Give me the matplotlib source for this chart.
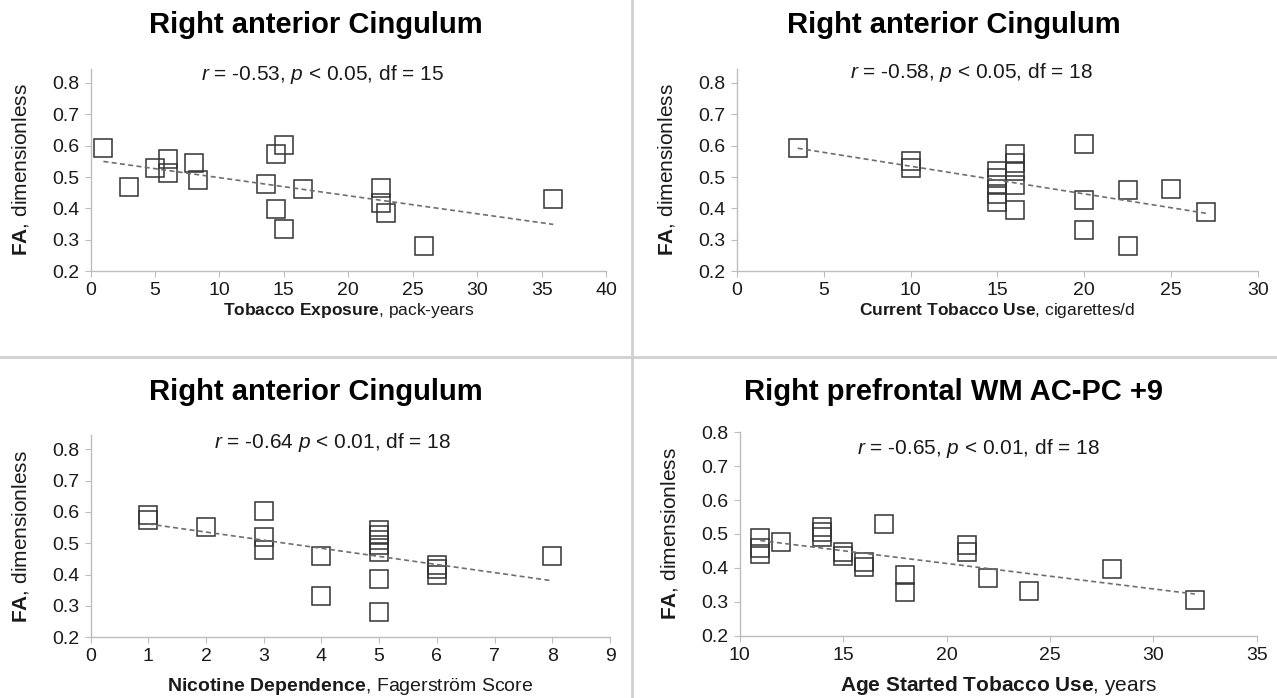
import matplotlib
matplotlib.use('Agg')
import matplotlib.pyplot as plt
import numpy as np
from matplotlib.lines import Line2D

plt.rcParams['font.family'] = ['Liberation Sans', 'DejaVu Sans']
plt.rcParams['mathtext.fontset'] = 'custom'
plt.rcParams['mathtext.rm'] = 'Liberation Sans'
plt.rcParams['mathtext.bf'] = 'Liberation Sans:bold'
plt.rcParams['mathtext.it'] = 'Liberation Sans:italic'

# panel 1: tobacco exposure (pack-years)
pack_years = [1, 3, 5, 6, 6, 8, 8.3, 13.6, 14.4, 15, 14.4, 15, 16.5, 22.5, 22.5, 22.9, 25.9, 35.9]
fa_pack = [0.594, 0.469, 0.528, 0.557, 0.514, 0.546, 0.491, 0.479, 0.575, 0.602, 0.397, 0.333,
           0.463, 0.466, 0.418, 0.384, 0.280, 0.429]

# panel 2: current tobacco use (cigarettes/d)
cig_per_day = [3.5, 10, 10, 15, 15, 15, 15, 15, 16, 16, 16, 16, 16, 20, 20, 20, 22.5, 22.5, 25, 27]
fa_cig = [0.592, 0.552, 0.528, 0.518, 0.497, 0.475, 0.447, 0.421, 0.574, 0.546, 0.518, 0.475,
          0.396, 0.604, 0.427, 0.332, 0.460, 0.280, 0.462, 0.388]

# panel 3: Fagerstrom score
fager = [1, 1, 2, 3, 3, 3, 4, 4, 5, 5, 5, 5, 5, 5, 5, 6, 6, 6, 8]
fa_fager = [0.590, 0.575, 0.553, 0.604, 0.521, 0.479, 0.461, 0.333, 0.543, 0.527, 0.511, 0.495,
            0.471, 0.387, 0.281, 0.432, 0.418, 0.400, 0.460]

# panel 4: age started tobacco use
age_start = [11, 11, 11, 12, 14, 14, 14, 15, 15, 16, 16, 17, 18, 18, 21, 21, 22, 24, 28, 32]
fa_age = [0.487, 0.458, 0.440, 0.476, 0.520, 0.505, 0.490, 0.447, 0.435, 0.418, 0.402, 0.530,
          0.379, 0.329, 0.468, 0.447, 0.371, 0.333, 0.396, 0.305]

W, H = 1277, 698
fig = plt.figure(figsize=(12.77, 6.98), dpi=100)


def px(x, y):
    return x / W, 1 - y / H


panels = [
    dict(x=pack_years, y=fa_pack, rect=(0.0709, 0.6117, 0.4037, 0.2896), xlim=(0, 40), xt=np.arange(0, 41, 5),
         ytop=0.845, xlabel=r'$\mathbf{Tobacco\ Exposure}$, pack-years', xl_y=-0.15, xl_fs=12.5,
         title='Right anterior Cingulum', tpos=(316, 25),
         note=r'$r$ = -0.53, $p$ < 0.05, df = 15', npos=(323, 75)),
    dict(x=cig_per_day, y=fa_cig, rect=(0.5771, 0.6117, 0.408, 0.2896), xlim=(0, 30), xt=np.arange(0, 31, 5),
         ytop=0.845, xlabel=r'$\mathbf{Current\ Tobacco\ Use}$, cigarettes/d', xl_y=-0.15, xl_fs=12.5,
         title='Right anterior Cingulum', tpos=(954, 25),
         note=r'$r$ = -0.58, $p$ < 0.05, df = 18', npos=(972, 73)),
    dict(x=fager, y=fa_fager, rect=(0.0709, 0.087, 0.4068, 0.2895), xlim=(0, 9), xt=np.arange(0, 10, 1),
         ytop=0.845, xlabel=r'$\mathbf{Nicotine\ Dependence}$, Fagerström Score', xl_y=-0.19, xl_fs=14,
         title='Right anterior Cingulum', tpos=(316, 392),
         note=r'$r$ = -0.64 $p$ < 0.01, df = 18', npos=(333, 443)),
    dict(x=age_start, y=fa_age, rect=(0.5792, 0.0893, 0.4051, 0.2914), xlim=(10, 35), xt=np.arange(10, 36, 5),
         ytop=0.8, xlabel=r'$\mathbf{Age\ Started\ Tobacco\ Use}$, years', xl_y=-0.19, xl_fs=15,
         title='Right prefrontal WM AC-PC +9', tpos=(954, 392),
         note=r'$r$ = -0.65, $p$ < 0.01, df = 18', npos=(979, 448)),
]

for p in panels:
    ax = fig.add_axes(p['rect'])
    xs = np.array(p['x'])
    ys = np.array(p['y'])
    ax.plot(xs, ys, linestyle='none', marker='s', markersize=13, markerfacecolor='none',
            markeredgecolor='#333333', markeredgewidth=1.1)
    k, b = np.polyfit(xs, ys, 1)
    xx = np.array([xs.min(), xs.max()])
    ax.plot(xx, k * xx + b, linestyle=(0, (3, 2)), color='#6e6e6e', linewidth=1.2)

    ax.set_xlim(*p['xlim'])
    ax.set_ylim(0.2, p['ytop'])
    ax.set_xticks(p['xt'])
    ax.set_yticks(np.arange(0.2, 0.81, 0.1))
    ax.set_xticklabels([str(v) for v in p['xt']])
    ax.set_yticklabels(['%.1f' % v for v in np.arange(0.2, 0.81, 0.1)])
    for s in ['top', 'right']:
        ax.spines[s].set_visible(False)
    for s in ['left', 'bottom']:
        ax.spines[s].set_color('#bdbdbd')
        ax.spines[s].set_linewidth(1.0)
    ax.spines['left'].set_bounds(0.2, p['ytop'])
    ax.tick_params(direction='out', length=4, color='#bdbdbd', labelsize=14, labelcolor='#1a1a1a', pad=4)
    ax.set_ylabel(r'$\mathbf{FA}$, dimensionless', fontsize=15, color='#1a1a1a')
    ax.yaxis.set_label_coords(-0.115, 0.5)
    ax.set_xlabel(p['xlabel'], fontsize=p['xl_fs'], color='#1a1a1a', va='top')
    ax.xaxis.set_label_coords(0.5, p['xl_y'])

    fig.text(*px(*p['tpos']), p['title'], fontsize=21, fontweight='bold', ha='center', va='center')
    fig.text(*px(*p['npos']), p['note'], fontsize=15, ha='center', va='center', color='#1a1a1a')

# divider lines between the panels
fig.add_artist(Line2D([632 / W, 632 / W], [0, 1], color='#d0d0d0', linewidth=2))
fig.add_artist(Line2D([0, 1], [1 - 357 / H, 1 - 357 / H], color='#d0d0d0', linewidth=2))

fig.savefig('out.png', dpi=100)
